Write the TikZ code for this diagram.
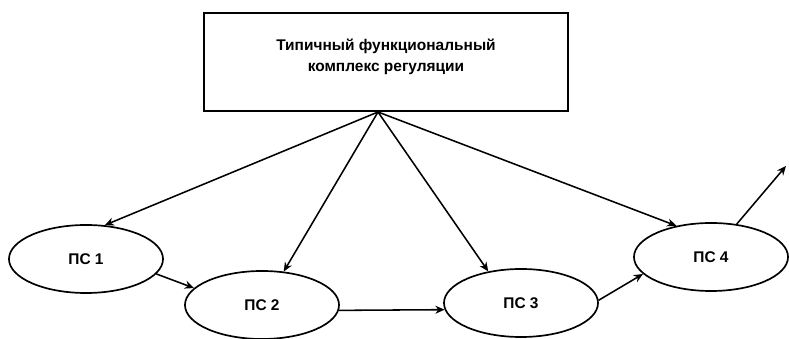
\documentclass[tikz,border=0pt]{standalone}
\usepackage{fontspec}
\setmainfont{Liberation Sans}
\usetikzlibrary{shapes.geometric}
\usetikzlibrary{arrows.meta}

\begin{document}
\begin{tikzpicture}[x=0.025cm, y=-0.025cm,
    complex/.style={draw, line width=1.6pt, minimum width=9.1cm, minimum height=2.45cm, align=center, font=\bfseries\fontsize{11}{15.5}\selectfont},
    subsys/.style={draw, ellipse, line width=1.2pt, minimum width=3.85cm, minimum height=1.7cm, font=\bfseries\fontsize{11}{13}\selectfont},
    arrow/.style={-{Stealth[length=2.3mm, width=2mm]}, line width=1.1pt},
]
\useasboundingbox (0,0) rectangle (789,339);

\node[complex] (complex) at (386,62) {Типичный функциональный\\комплекс регуляции\\[-6pt]};
\node[subsys] (ps1) at (86,259) {ПС 1};
\node[subsys] (ps2) at (262,305) {ПС 2};
\node[subsys] (ps3) at (521,303) {ПС 3};
\node[subsys] (ps4) at (711,257) {ПС 4};

% common start of the arrows under the box
\coordinate (hub) at (378,112);
\coordinate (out) at (786,166);

\draw[arrow] (hub) -- (ps1.61);
\draw[arrow] (hub) -- (ps2.57);
\draw[arrow] (hub) -- (ps3.136);
\draw[arrow] (hub) -- (ps4.138);
\draw[arrow] (ps1.-12) -- (ps2.166);
\draw[arrow] (ps2.-4) -- (ps3.185);
\draw[arrow] (ps3.2) -- (ps4.194);
\draw[arrow] (ps4.52) -- (out);

\end{tikzpicture}
\end{document}
